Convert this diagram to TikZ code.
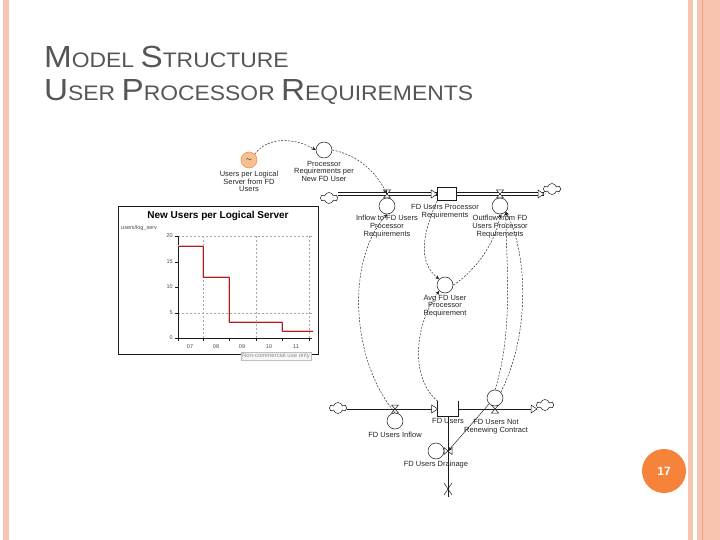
\documentclass[tikz,border=0pt]{standalone}
\usepackage{fontspec}
\setmainfont{Liberation Sans}
\newfontfamily\titlefont[FakeStretch=1.09]{Liberation Sans}
\usetikzlibrary{arrows.meta, positioning, shapes.symbols, calc}
\definecolor{vsalmon}{HTML}{F7C4AF}
\definecolor{vsalmondk}{HTML}{EE9F80}
\definecolor{vorange}{HTML}{F5843A}
\definecolor{vpeach}{HTML}{F6C190}
\definecolor{vtitle}{HTML}{565656}
\definecolor{vline}{HTML}{1A1A1A}
\definecolor{vtext}{HTML}{262626}
\definecolor{vred}{HTML}{A82020}
\definecolor{vpink}{HTML}{F4B8B8}
\newcommand\capw[2]{{\fontsize{30.5}{34}\selectfont #1}{\fontsize{21}{34}\selectfont #2}}
\tikzset{
  aux/.style={circle, draw=vline, fill=white, minimum size=16pt, inner sep=0pt, line width=0.5pt},
  lookup/.style={aux, fill=vpeach, draw=vorange},
  stockbox/.style={rectangle, draw=vline, fill=white, minimum width=19pt, minimum height=13pt,
                   inner sep=0pt, line width=0.6pt},
  cloudy/.style={cloud, cloud puffs=6, draw=vline, minimum width=17pt, minimum height=11pt,
                 inner sep=0pt, line width=0.5pt},
  lbl/.style={font=\fontsize{7.5}{7.8}\selectfont, align=center, text=vtext, inner sep=0.5pt},
  link/.style={-{Stealth[length=4pt,width=3.5pt]}, draw=vline, dash pattern=on 2pt off 1.4pt,
               line width=0.45pt},
  thinpipe/.style={draw=vline, line width=0.7pt},
  axlbl/.style={font=\fontsize{5.5}{6}\selectfont, text=black!70, inner sep=1pt},
  grid/.style={draw=black!35, dash pattern=on 2pt off 2pt, line width=0.4pt}
}
% hourglass valve on a horizontal or vertical pipe
\newcommand\hvalve[1]{\draw[vline, fill=white, line width=0.5pt]
  ($(#1)+(-3.5,-4)$) -- ($(#1)+(3.5,-4)$) -- ($(#1)+(-3.5,4)$) -- ($(#1)+(3.5,4)$) -- cycle;}
\newcommand\vvalve[1]{\draw[vline, fill=white, line width=0.5pt]
  ($(#1)+(-4,-3.5)$) -- ($(#1)+(-4,3.5)$) -- ($(#1)+(4,-3.5)$) -- ($(#1)+(4,3.5)$) -- cycle;}
\newcommand\intip[1]{\draw[vline, fill=white, line width=0.5pt]
  ($(#1)+(-6,-4)$) -- ($(#1)+(0,0)$) -- ($(#1)+(-6,4)$) -- cycle;}
% double pipe between two points
\newcommand\dpipe[2]{%
  \draw[thinpipe, line width=0.6pt] ($(#1)+(0,-1.4)$) -- ($(#2)+(0,-1.4)$);
  \draw[thinpipe, line width=0.6pt] ($(#1)+(0,1.4)$) -- ($(#2)+(0,1.4)$);}

\begin{document}
\begin{tikzpicture}[x=1pt, y=-1pt]
  \useasboundingbox (0,0) rectangle (720,540);
  \fill[white] (0,0) rectangle (720,540);

  % slide frame
  \fill[vsalmon] (3,0) rectangle (9,540);
  \fill[vsalmon] (688,0) rectangle (693,540);
  \fill[vsalmon] (697,0) rectangle (720,540);
  \draw[vsalmondk, line width=1.1pt] (702.5,0) -- (702.5,540);

  % title
  \node[anchor=base west, inner sep=0pt, text=vtitle, font=\titlefont] (ttl1) at (44,68)
    {\capw{M}{ODEL }\capw{S}{TRUCTURE}};
  \node[anchor=base west, inner sep=0pt, text=vtitle, font=\titlefont] (ttl2) at (44,101)
    {\capw{U}{SER }\capw{P}{ROCESSOR }\capw{R}{EQUIREMENTS}};

  % lookup chart
  \draw[vline, line width=0.7pt] (118,206) rectangle (318,354);
  \node[font=\bfseries\fontsize{10}{10}\selectfont] (chtitle) at (218,216) {New Users per Logical Server};
  \node[axlbl, anchor=west] (chunit) at (120,228) {users/log\_serv};
  \draw[grid] (178,236) -- (312,236);
  \draw[grid] (178,313) -- (312,313);
  \foreach \gx in {203,256,309} \draw[grid] (\gx,236) -- (\gx,338);
  \draw[vline, line width=0.6pt] (178,236) -- (178,338) -- (312,338);
  \foreach \tx in {178,203,229,256,282,309} \draw[vline, line width=0.6pt] (\tx,338) -- (\tx,341);
  \foreach \ty/\tl in {236/20,262/15,287/10,313/5,338/0} {
    \draw[vline, line width=0.6pt] (175,\ty) -- (178,\ty);
    \node[axlbl, anchor=east] at (174,\ty) {\tl};
  }
  \foreach \lx/\tl in {190/07,216/08,242/09,269/10,296/11}
    \node[axlbl] at (\lx,347) {\tl};
  \draw[vpink, line width=2.2pt, line join=round]
    (178,246) -- (203,246) -- (203,277) -- (229,277) -- (229,322) -- (282,322) -- (282,331) -- (313,331);
  \draw[vred, line width=0.9pt, line join=round]
    (178,246) -- (203,246) -- (203,277) -- (229,277) -- (229,322) -- (282,322) -- (282,331) -- (313,331);
  \node[draw=black!25, fill=black!3, text=black!45, font=\fontsize{6}{6}\selectfont,
        inner sep=1pt] (ncu) at (276,356) {Non-commercial use only};

  % processor requirements chain
  \node[lookup] (lkp) at (249,160) {\fontsize{7}{7}\selectfont$\sim$};
  \node[lbl, below=2pt of lkp] (lkplbl) {Users per Logical\\Server from FD\\Users};
  \node[aux] (prq) at (324,150) {};
  \node[lbl, below=2pt of prq] (prqlbl) {Processor\\Requirements per\\New FD User};

  \node[cloudy] (c1) at (329,198) {};
  \coordinate (v1) at (387,194);
  \node[stockbox] (stk1) at (447,194) {};
  \coordinate (v2) at (500,194);
  \node[cloudy] (c2) at (552,189) {};
  \coordinate (p1) at (338,194);
  \coordinate (p2) at (544,194);
  \dpipe{p1}{stk1.west}
  \dpipe{stk1.east}{p2}
  \intip{stk1.west}
  \intip{p2}
  \hvalve{v1}
  \hvalve{v2}
  \node[aux] (inf) at (387,206) {};
  \node[aux] (outf) at (500,206) {};
  \node[lbl, below=0.5pt of inf] (inflbl) {Inflow to FD Users\\Processor\\Requirements};
  \node[lbl, below=3pt of stk1, xshift=-2pt] (stk1lbl) {FD Users Processor\\Requirements};
  \node[lbl, below=0.5pt of outf] (outflbl) {Outflow from FD\\Users Processor\\Requirements};

  \node[aux] (avg) at (445,285) {};
  \node[lbl, below=1pt of avg] (avglbl) {Avg FD User\\Processor\\Requirement};

  % FD users chain
  \node[cloudy] (c3) at (338,408) {};
  \coordinate (v3) at (395,409);
  \node[stockbox, minimum width=20pt, minimum height=15pt, draw=none] (stk2) at (448,409) {};
  \coordinate (v4) at (495,409);
  \node[cloudy] (c4) at (545,405) {};
  \draw[thinpipe] (c3.east |- v3) -- (stk2.west);
  \draw[thinpipe] (stk2.east) -- (537,409);
  \draw[vline, line width=0.7pt] (stk2.north west) -- (stk2.south west) -- (stk2.south east) -- (stk2.north east);
  \intip{stk2.west}
  \intip{537,409}
  \hvalve{v3}
  \hvalve{v4}
  \node[aux] (fin) at (395,421) {};
  \node[aux] (nrn) at (495,398) {};
  \node[lbl, below=2pt of fin] (finlbl) {FD Users Inflow};
  \node[lbl, below=1pt of stk2] (stk2lbl) {FD Users};
  \node[lbl] (nrnlbl) at (496,427) {FD Users Not\\Renewing Contract};

  \coordinate (v5) at (448,451);
  \coordinate (snk) at (448,497);
  \draw[thinpipe] (stk2.south) -- (snk);
  \vvalve{v5}
  \draw[vline, line width=0.5pt] (444,483) -- (448,489) -- (452,483);
  \draw[vline, line width=0.5pt] (444,495) -- (448,489) -- (452,495);
  \node[aux] (drn) at (436,451) {};
  \node[lbl, below=1pt of drn] (drnlbl) {FD Users Drainage};

  % information links
  \draw[link] (lkp.north east) .. controls (268,136) and (295,138) .. (prq.west);
  \draw[link] (prq.east) .. controls (358,155) and (376,172) .. (v1);
  \draw[link] (stk1.south west) .. controls (422,235) and (418,262) .. (avg.north west);
  \draw[link] (avg.east) .. controls (475,272) and (497,240) .. (outf.south);
  \draw[link] (fin.north) .. controls (352,362) and (345,262) .. (inf.south);
  \draw[link] (stk2.north west) .. controls (412,380) and (412,330) .. (avg.south west);
  \draw[link] (nrn.north) .. controls (514,330) and (506,260) .. (outf.south east);
  \draw[link] (nrn.north east) .. controls (532,330) and (526,250) .. (outf.south east);
  \draw[link, solid] (nrn.south west) -- (v5);

  % page number
  \node[circle, fill=vorange, minimum size=44pt, inner sep=0pt, text=white,
        font=\bfseries\fontsize{12}{12}\selectfont] (pgnum) at (664,471) {17};
\end{tikzpicture}
\end{document}
